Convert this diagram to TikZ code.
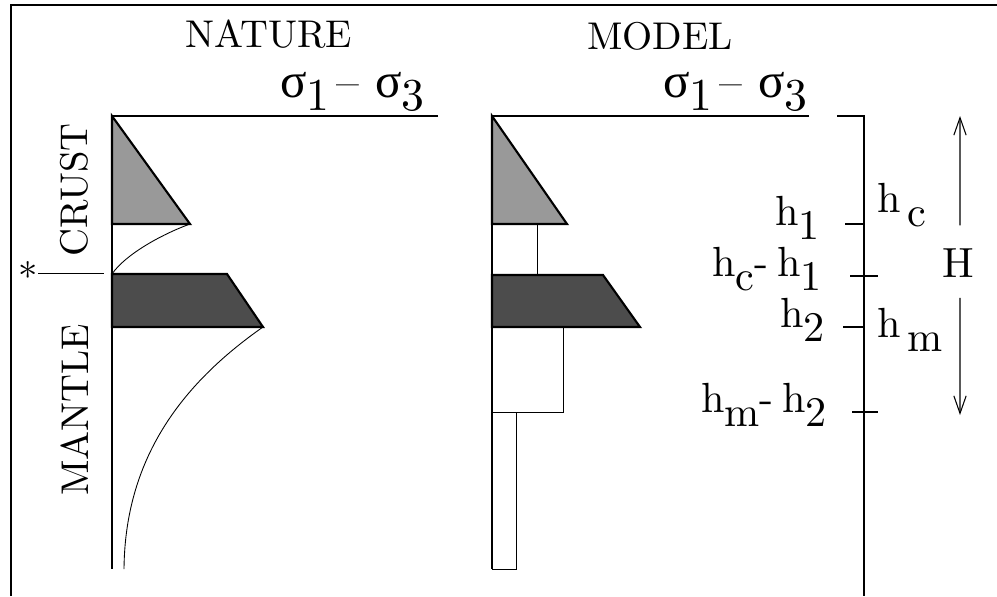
\documentclass[tikz,border=0pt]{standalone}
\usepackage{fontspec}
\setmainfont{lmroman10-regular.otf}
\newfontfamily\greekfont{Liberation Serif}
\usepackage{tikz}
\usetikzlibrary{arrows.meta}

\tikzset{
  frameline/.style={line width=1.1pt},
  axisline/.style={line width=1.2pt},
  thinline/.style={line width=0.5pt},
  tickline/.style={line width=0.8pt},
  crustfill/.style={fill=black!40, draw=black, line width=1.2pt},
  mantlefill/.style={fill=black!70, draw=black, line width=1.2pt},
  titletext/.style={font=\fontsize{22}{22}\selectfont, inner sep=0pt},
  sigtext/.style={font=\fontsize{26}{26}\selectfont, inner sep=0pt, anchor=base west},
  htext/.style={font=\fontsize{24}{24}\selectfont, inner sep=0pt},
  harrow/.style={line width=0.6pt, -{Straight Barb[length=10pt,width=7pt]}}
}
\newcommand{\sigdiff}{{\greekfont\fontsize{28}{28}\selectfont σ}\raisebox{-0.3em}{1}\kern0.15em--\hspace{0.35em}{\greekfont\fontsize{28}{28}\selectfont σ}\raisebox{-0.3em}{3}}
\newcommand{\hsub}[1]{h\raisebox{-0.35em}{#1}}

\begin{document}
\begin{tikzpicture}[x=0.02cm, y={(0cm,-0.02cm)}]
    \useasboundingbox (0,0) rectangle (997,596);
    % frame
    \draw[frameline] (11,596) -- (11,5) -- (997,5);

    % titles
    \node[titletext, anchor=base] (nature) at (269,47) {NATURE};
    \node[titletext, anchor=base] (model) at (660,49) {MODEL};
    \node[sigtext] (signat) at (280,97) {\sigdiff};
    \node[sigtext] (sigmod) at (663,97) {\sigdiff};

    % nature profile
    \filldraw[crustfill] (112,116) -- (190,224) -- (112,224) -- cycle;
    \filldraw[mantlefill] (112,274) -- (227,274) -- (263,327) -- (112,327) -- cycle;
    \draw[thinline] (190,224) .. controls (160,235) and (125,255) .. (112,274);
    \draw[thinline] (263,327) .. controls (180,385) and (125,460) .. (124,569);
    \draw[axisline] (438,116) -- (112,116) -- (112,569);

    \node[titletext, rotate=90] (crust) at (74,190) {CRUST};
    \node[titletext, rotate=90] (mantle) at (75,410) {MANTLE};
    \node[titletext, anchor=base] (star) at (28,290) {*};
    \coordinate (moho) at (104,273);
    \draw[thinline] (38,273) -- (moho);

    % model profile
    \filldraw[crustfill] (492,116) -- (567,224) -- (492,224) -- cycle;
    \draw[thinline] (492,224) rectangle (537,275);
    \filldraw[mantlefill] (492,275) -- (603,275) -- (640,327) -- (492,327) -- cycle;
    \draw[thinline] (492,327) rectangle (563,412);
    \draw[thinline] (492,412) rectangle (516,569);
    \draw[axisline] (809,116) -- (492,116) -- (492,569);

    % thickness bar
    \draw[tickline] (837,116) -- (864,116) -- (864,596);
    \draw[tickline] (845,224) -- (864,224);
    \draw[tickline] (850,276) -- (878,276);
    \draw[tickline] (843,327) -- (864,327);
    \draw[tickline] (852,412) -- (878,412);

    \node[htext, anchor=base east] (h1) at (820,225) {\hsub{1}};
    \node[htext, anchor=base west] (hc) at (877,212) {h\hspace{0.15em}\raisebox{-0.35em}{c}};
    \node[htext, anchor=base east] (hch1) at (822,276) {\hsub{c}-\hspace{0.2em}\hsub{1}};
    \node[htext, anchor=base east] (h2) at (825,327) {\hsub{2}};
    \node[htext, anchor=base west] (hm) at (877,337) {h\hspace{0.15em}\raisebox{-0.35em}{m}};
    \node[htext, anchor=base east] (hmh2) at (827,412) {\hsub{m}-\hspace{0.2em}\hsub{2}};

    \node[htext] (H) at (958,263) {H};
    \coordinate (Hup) at (960,116);
    \coordinate (Hdown) at (960,415);
    \draw[harrow] ([xshift=0.04cm, yshift=0.46cm]H.north) -- (Hup);
    \draw[harrow] ([xshift=0.04cm, yshift=-0.4cm]H.south) -- (Hdown);
\end{tikzpicture}
\end{document}
